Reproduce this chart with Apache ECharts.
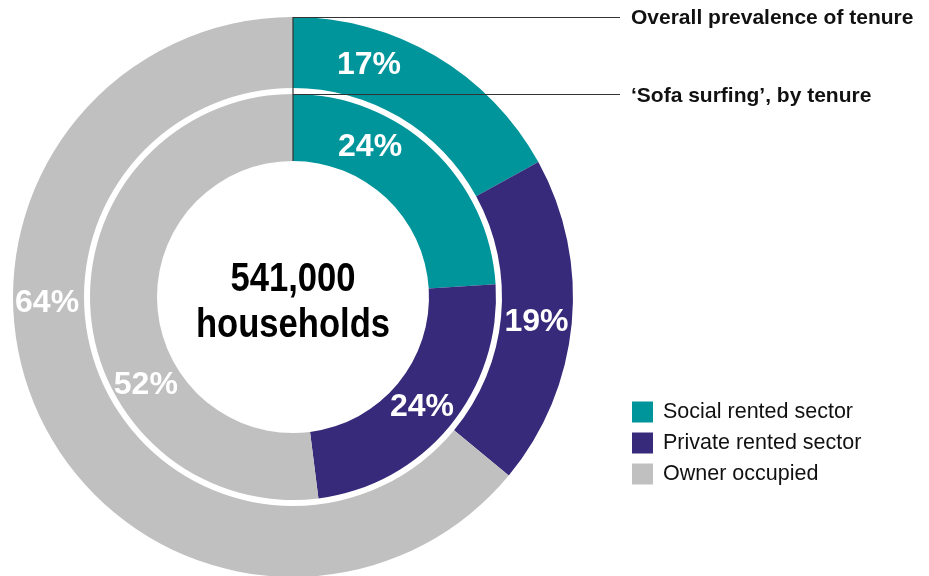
<!DOCTYPE html>
<html>
<head>
<meta charset="utf-8">
<script src="https://cdn.jsdelivr.net/npm/echarts@6/dist/echarts.min.js"></script>
<style>
html,body{margin:0;padding:0;background:#fff;}
#chart{width:929px;height:576px;}
</style>
</head>
<body>
<div id="chart"></div>
<script>
// ---- data ----
var categories = ['Social rented sector', 'Private rented sector', 'Owner occupied'];
var overallPrevalence = [17, 19, 64];   // outer ring, %
var sofaSurfing = [24, 24, 52];         // inner ring, %
var ringTitles = ['Overall prevalence of tenure', '\u2018Sofa surfing\u2019, by tenure'];
var centerTotal = '541,000';
var centerUnit = 'households';

// ---- styles ----
var colors = ['#00959a', '#372a7a', '#c0c0c0'];
var outerLabelOffsets = [[-50, -19], [-3, 2], [-22, -99]];
var innerLabelOffsets = [[-41, -24], [-4, 0], [25, 77]];
var sansFont = '"Liberation Sans", Arial, Helvetica, sans-serif';
var cx = 293, cy = 297;

function buildData(values, offsets) {
  return values.map(function (v, i) {
    return {
      name: categories[i],
      value: v,
      itemStyle: { color: colors[i] },
      label: { offset: offsets[i] }
    };
  });
}

var labelStyle = {
  show: true,
  position: 'inside',
  formatter: '{c}%',
  color: '#fff',
  fontFamily: sansFont,
  fontWeight: 'bold',
  fontSize: 32
};

var chart = echarts.init(document.getElementById('chart'), null, { renderer: 'canvas' });
chart.setOption({
  animation: false,
  backgroundColor: '#fff',
  legend: {
    orient: 'vertical',
    left: 632,
    top: 401,
    padding: 0,
    itemWidth: 21,
    itemHeight: 21,
    itemGap: 9,
    icon: 'rect',
    data: categories,
    selectedMode: false,
    textStyle: { fontFamily: sansFont, fontSize: 21.5, color: '#111', padding: [0, 0, 0, 5] }
  },
  series: [
    {
      type: 'pie',
      center: [cx, cy],
      radius: [209, 280],
      startAngle: 90,
      clockwise: true,
      silent: true,
      label: labelStyle,
      labelLine: { show: false },
      itemStyle: { borderWidth: 0 },
      data: buildData(overallPrevalence, outerLabelOffsets)
    },
    {
      type: 'pie',
      center: [cx, cy],
      radius: [136, 203],
      startAngle: 90,
      clockwise: true,
      silent: true,
      label: labelStyle,
      labelLine: { show: false },
      itemStyle: { borderWidth: 0 },
      data: buildData(sofaSurfing, innerLabelOffsets)
    }
  ],
  graphic: [
    { type: 'line', shape: { x1: cx, y1: 17, x2: cx, y2: 161 }, style: { stroke: '#333', lineWidth: 1.2 }, z: 100 },
    { type: 'line', shape: { x1: cx, y1: 17.5, x2: 620, y2: 17.5 }, style: { stroke: '#333', lineWidth: 1.2 }, z: 100 },
    { type: 'line', shape: { x1: cx, y1: 94.5, x2: 620, y2: 94.5 }, style: { stroke: '#333', lineWidth: 1.2 }, z: 100 },
    { type: 'text', x: 631, y: 18, style: { text: ringTitles[0], fill: '#111', font: 'bold 21px ' + sansFont, textVerticalAlign: 'middle' }, z: 100 },
    { type: 'text', x: 631, y: 96, style: { text: ringTitles[1], fill: '#111', font: 'bold 21px ' + sansFont, textVerticalAlign: 'middle' }, z: 100 },
    { type: 'text', x: cx, y: 303, scaleX: 0.865, style: { text: centerTotal + '\n' + centerUnit, fill: '#000', font: 'bold 40px ' + sansFont, textAlign: 'center', textVerticalAlign: 'middle', lineHeight: 46 }, z: 100 }
  ]
});
</script>
</body>
</html>
